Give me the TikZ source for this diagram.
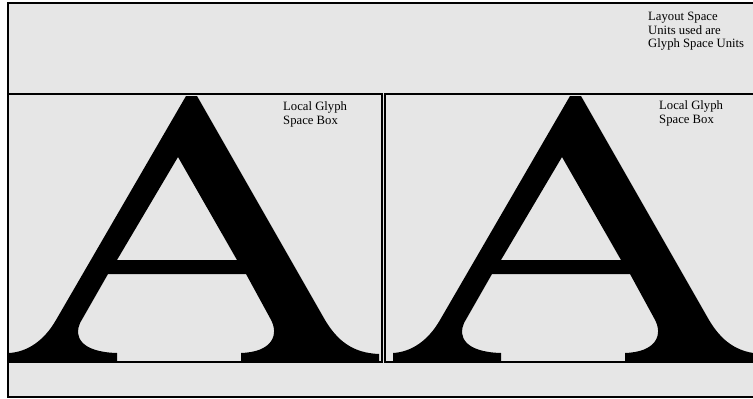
\documentclass[tikz,border=0pt]{standalone}
\usepackage{fontspec}
\setmainfont{Liberation Serif}
\definecolor{bg}{HTML}{E6E6E6}
\tikzset{
  panel/.style={draw=black, line width=1.6pt, fill=bg, inner sep=0pt, outer sep=0pt, anchor=north west},
  lbl/.style={inner sep=0pt, anchor=base west, align=left, font=\fontsize{12.7}{13.7}\selectfont},
  glyphfill/.style={fill=black, even odd rule}
}
\newcommand{\drawbigA}{%
  \fill[glyphfill]
    (9,361) -- (117,361) -- (117,353)
    .. controls (80,352) and (74,336) .. (80,323)
    -- (108,274) -- (246,274) -- (270,318)
    .. controls (280,335) and (272,352) .. (241,353)
    -- (241,361) -- (379,361) -- (379,354)
    .. controls (352,353) and (337,340) .. (325,320)
    -- (197,96) -- (186,96) -- (56,320)
    .. controls (44,341) and (27,352) .. (9,353) -- cycle
    (178,157) -- (237,260) -- (117,260) -- cycle;
}
\begin{document}
\begin{tikzpicture}[x=1pt,y=-1pt]
\clip (0,0) rectangle (753,399);
\fill[white] (0,0) rectangle (753,399);
\node[panel, minimum width=767pt, minimum height=394pt] (outer) at (8,3) {};
\node[panel, minimum width=374pt, minimum height=268pt] (leftbox) at (8,94) {};
\node[panel, minimum width=385pt, minimum height=268pt] (rightbox) at (385,94) {};
\begin{scope}
\clip (leftbox.north west) rectangle (leftbox.south east);
\drawbigA
\end{scope}
\begin{scope}
\clip (rightbox.north west) rectangle (rightbox.south east);
\begin{scope}[shift={(384,0)}]
\drawbigA
\end{scope}
\end{scope}
\draw[line width=1.6pt] (leftbox.north west) rectangle (leftbox.south east);
\draw[line width=1.6pt] (rightbox.north west) rectangle (rightbox.south east);
\node[lbl] (layout) at (648,47.7) {Layout Space\\Units used are\\Glyph Space Units};
\node[lbl] (leftlbl) at (283,124.3) {Local Glyph\\Space Box};
\node[lbl] (rightlbl) at (659,123) {Local Glyph\\Space Box};
\end{tikzpicture}
\end{document}
